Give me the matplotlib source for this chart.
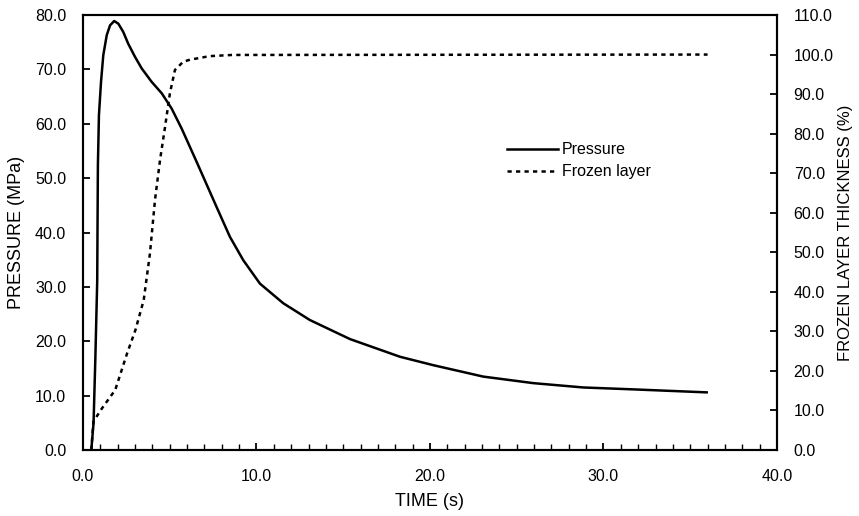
import matplotlib
matplotlib.use("Agg")
import matplotlib.pyplot as plt
from matplotlib.ticker import MultipleLocator, FormatStrFormatter

plt.rcParams['font.family'] = ['Liberation Sans', 'DejaVu Sans']

# Pressure (MPa) vs time (s)
time_p = [0.48, 0.61, 0.71, 0.82, 0.84, 0.86, 0.92, 1.04, 1.17, 1.37, 1.56, 1.80,
          2.04, 2.32, 2.61, 3.0, 3.38, 3.96, 4.54, 5.11, 5.69, 6.55, 7.7, 8.47,
          9.24, 10.2, 11.54, 13.08, 15.39, 18.27, 20.19, 23.07, 25.95, 28.84,
          31.72, 35.95]
pressure = [0.0, 5.0, 16.5, 31.0, 42.0, 52.4, 61.6, 67.7, 72.6, 76.3, 78.1, 78.9,
            78.4, 76.9, 74.7, 72.3, 70.2, 67.7, 65.6, 62.8, 59.1, 53.0, 44.7, 39.2,
            34.9, 30.6, 27.0, 23.9, 20.4, 17.15, 15.6, 13.5, 12.3, 11.5,
            11.15, 10.6]

# Frozen layer thickness (%) vs time (s)
time_f = [0.48, 0.6, 1.09, 1.86, 2.54, 3.02, 3.5, 3.86, 4.15, 4.44, 4.73, 5.01,
          5.3, 5.78, 6.17, 7.3, 8.6, 36.0]
frozen = [0.0, 7.2, 10.5, 15.2, 24.4, 30.3, 37.9, 49.7, 63.2, 73.3, 81.7, 90.2,
          96.1, 98.2, 98.7, 99.6, 99.9, 100.0]

fig = plt.figure(figsize=(8.59, 5.16), dpi=100)
ax = fig.add_axes([0.0966, 0.1279, 0.8079, 0.843])
ax2 = ax.twinx()

l1, = ax.plot(time_p, pressure, color='black', lw=1.8, solid_joinstyle='round')
l2, = ax2.plot(time_f, frozen, color='black', lw=1.8, linestyle=(0, (1.7, 1.7)))

ax.set_xlim(0, 40)
ax.set_ylim(0, 80)
ax2.set_ylim(0, 110)

ax.xaxis.set_major_locator(MultipleLocator(10))
ax.xaxis.set_minor_locator(MultipleLocator(1))
ax.yaxis.set_major_locator(MultipleLocator(10))
ax2.yaxis.set_major_locator(MultipleLocator(10))
for a in (ax.xaxis, ax.yaxis, ax2.yaxis):
    a.set_major_formatter(FormatStrFormatter('%.1f'))

ax.tick_params(axis='x', which='major', direction='in', length=5, width=1.3,
               labelsize=11.5, pad=14, top=False)
ax.tick_params(axis='x', which='minor', direction='in', length=4, width=1.0, top=False)
ax.tick_params(axis='y', which='major', direction='in', length=5, width=1.3,
               labelsize=11.5, pad=12)
ax2.tick_params(axis='y', which='major', direction='in', length=5, width=1.3,
                labelsize=11.5, pad=12)

for a in (ax, ax2):
    for s in a.spines.values():
        s.set_linewidth(1.5)

ax.set_xlabel('TIME (s)', fontsize=13, labelpad=6)
ax.set_ylabel('PRESSURE (MPa)', fontsize=13, labelpad=7)
ax2.set_ylabel('FROZEN LAYER THICKNESS (%)', fontsize=12, labelpad=3)

ax.legend([l1, l2], ['Pressure', 'Frozen layer'], loc='center left',
          bbox_to_anchor=(0.59, 0.665), frameon=False, fontsize=11.5,
          handlelength=3.2, handletextpad=0.25, labelspacing=0.45)

fig.savefig('out.png', dpi=100)
